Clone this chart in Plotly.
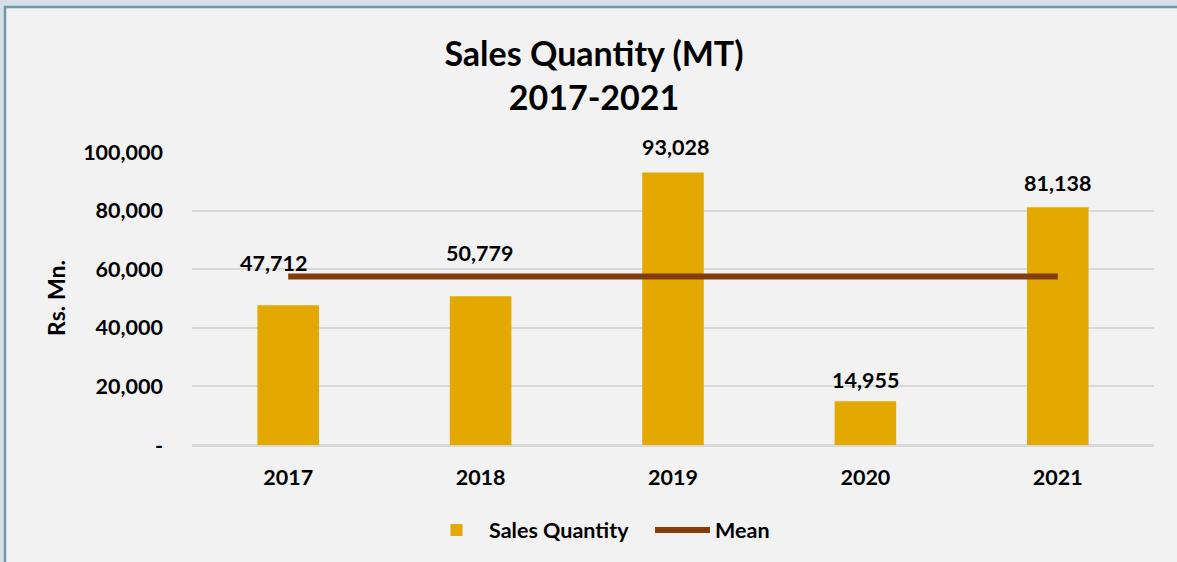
import plotly.graph_objects as go

years = ["2017", "2018", "2019", "2020", "2021"]
sales_qty = [47712, 50779, 93028, 14955, 81138]
y_tickvals = [0, 20000, 40000, 60000, 80000, 100000]
y_ticktext = ["-", "20,000", "40,000", "60,000", "80,000", "100,000"]
label_yshift = [42, 43, 25, 21, 24]
label_xshift = [-15, -1, 2, 0, 0]

mean_val = sum(sales_qty) / len(sales_qty)

W, H = 1177, 562
ML, MR, MT, MB = 192, 23, 151, 117
PW, PH = W - ML - MR, H - MT - MB
YMAX = 100000 * PH / (PH - 1)

def px_x(p):
    return (p - ML) / PW

def px_y(p):
    return (H - MB - p) / PH

FONT = "Lato"
BAR = "#E3A900"
LINE = "#843C0C"
FS = 21.5

fig = go.Figure()
fig.add_trace(go.Bar(
    x=years, y=sales_qty, name="Sales Quantity",
    marker=dict(color=BAR, line=dict(width=0)),
))
fig.add_trace(go.Scatter(
    x=years, y=[mean_val] * len(years), name="Mean", mode="lines",
    line=dict(color=LINE, width=6),
))

for i, v in enumerate(sales_qty):
    fig.add_annotation(
        x=i, y=v, text=f"<b>{v:,}</b>", showarrow=False,
        yanchor="middle", yshift=label_yshift[i], xshift=label_xshift[i],
        font=dict(family=FONT, size=FS, color="#000000"),
    )

# outer frame
fig.add_shape(type="rect", xref="paper", yref="paper", layer="below",
              x0=px_x(0), x1=px_x(W), y0=px_y(H), y1=px_y(0),
              fillcolor="#D3E0E7", line=dict(width=0))
fig.add_shape(type="rect", xref="paper", yref="paper", layer="below",
              x0=px_x(5), x1=px_x(W + 20), y0=px_y(H + 20), y1=px_y(7),
              fillcolor="#F2F2F2", line=dict(color="#6F98AA", width=2.5))

fig.update_layout(
    width=W, height=H,
    margin=dict(l=ML, r=MR, t=MT, b=MB, autoexpand=False),
    paper_bgcolor="#F2F2F2", plot_bgcolor="rgba(0,0,0,0)",
    bargap=0.68,
    title=dict(text="<b>Sales Quantity (MT)<br>2017-2021</b>",
               x=594 / W, xref="container", xanchor="center",
               y=1 - 66 / H, yref="container", yanchor="middle",
               font=dict(family=FONT, size=34, color="#000000")),
    font=dict(family=FONT, color="#000000"),
    legend=dict(orientation="h", x=px_x(650), xanchor="center",
                y=px_y(530), yanchor="middle",
                font=dict(family=FONT, size=FS, color="#000000", weight="bold"),
                bgcolor="rgba(0,0,0,0)", itemwidth=55,
                entrywidth=156, entrywidthmode="pixels"),
    showlegend=True,
)
fig.update_xaxes(
    type="category", range=[-0.5, len(years) - 0.5],
    showgrid=False, showline=True, linecolor="#D9D9D9", linewidth=1.5,
    ticks="", tickfont=dict(family=FONT, size=FS, color="#000000", weight="bold"),
    ticklabelstandoff=12,
)
fig.update_yaxes(
    range=[0, YMAX], tickvals=y_tickvals, ticktext=y_ticktext,
    showgrid=True, gridcolor="#D9D9D9", gridwidth=1.5,
    zeroline=True, zerolinecolor="#D9D9D9", zerolinewidth=1.5,
    ticks="", tickfont=dict(family=FONT, size=FS, color="#000000", weight="bold"),
    ticklabelstandoff=28,
    title=dict(text="<b>Rs. Mn.</b>", font=dict(family=FONT, size=23, color="#000000"),
               standoff=11),
)

fig.write_html("out.html", config={"displayModeBar": False},
               post_script="document.body.style.margin='0';")
